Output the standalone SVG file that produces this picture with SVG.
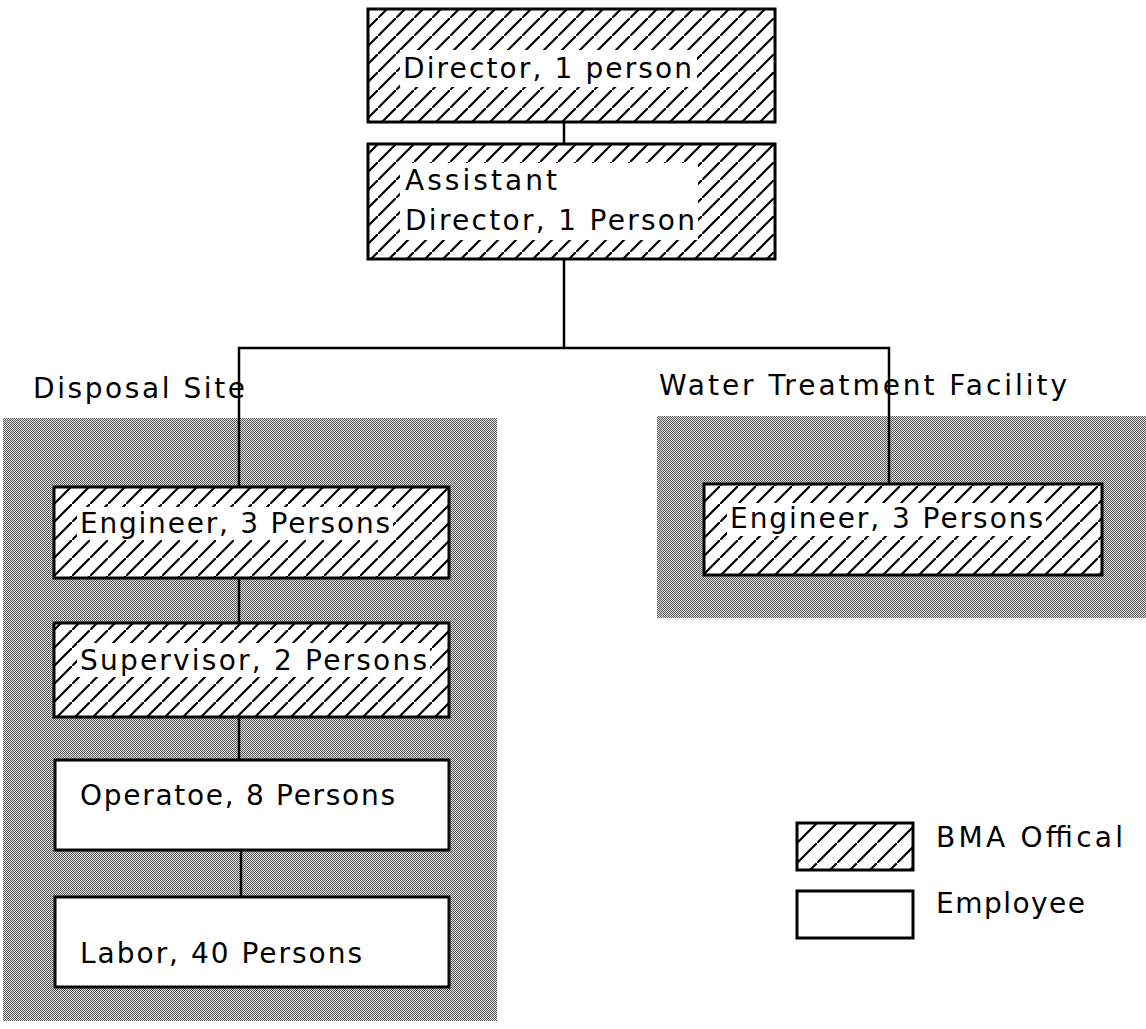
<svg xmlns="http://www.w3.org/2000/svg" width="1146" height="1029" viewBox="0 0 1146 1029">
<style>
text{font-family:"DejaVu Sans","Liberation Sans",sans-serif;font-size:28px;fill:#000}
.box{stroke:#000;stroke-width:3}
.hatch{fill:url(#hatch)}
.plain{fill:#fff}
.ko{fill:#fff;stroke:none}
.conn{stroke:#000;stroke-width:2.5;fill:none}
.gray{fill:url(#dither)}
</style>
<defs>
<pattern id="hatch" patternUnits="userSpaceOnUse" width="18" height="18">
<rect width="18" height="18" fill="#fff"/>
<path d="M-2,20 L20,-2" stroke="#000" stroke-width="2.2"/>
</pattern>
<pattern id="hatch2" patternUnits="userSpaceOnUse" width="20" height="20" x="797" y="823">
<rect width="20" height="20" fill="#fff"/>
<path d="M-2,22 L22,-2" stroke="#000" stroke-width="2.2"/>
</pattern>
<pattern id="dither" patternUnits="userSpaceOnUse" width="2" height="2">
<rect width="2" height="2" fill="#e4e4e4"/>
<rect width="1" height="1" fill="#555"/>
<rect x="1" y="1" width="1" height="1" fill="#555"/>
</pattern>
</defs>
<rect width="1146" height="1029" fill="#fff"/>

<g id="group-disposal">
<rect class="gray" x="3" y="418" width="494" height="603"/>
<text x="33" y="398" textLength="212" lengthAdjust="spacing">Disposal Site</text>
</g>
<g id="group-water">
<rect class="gray" x="657" y="416" width="489" height="202"/>
<text x="659" y="395" textLength="408" lengthAdjust="spacing">Water Treatment Facility</text>
</g>

<g id="connectors">
<line class="conn" x1="564" y1="122" x2="564" y2="144"/>
<polyline class="conn" points="564,259 564,348"/>
<polyline class="conn" points="239,487 239,348 889,348 889,484"/>
<line class="conn" x1="239" y1="578" x2="239" y2="623"/>
<line class="conn" x1="239" y1="717" x2="239" y2="760"/>
<line class="conn" x1="241" y1="850" x2="241" y2="897"/>
</g>

<g id="node-director">
<rect class="box hatch" x="368" y="9" width="407" height="113"/>
<rect class="ko" x="400" y="50" width="297" height="37"/>
<text x="403" y="78" textLength="289" lengthAdjust="spacing">Director, 1 person</text>
</g>
<g id="node-assistant">
<rect class="box hatch" x="368" y="144" width="407" height="115"/>
<rect class="ko" x="400" y="163" width="298" height="77"/>
<text x="405" y="190" textLength="152" lengthAdjust="spacing">Assistant</text>
<text x="405" y="230" textLength="290" lengthAdjust="spacing">Director, 1 Person</text>
</g>
<g id="node-engineer-disposal">
<rect class="box hatch" x="54" y="487" width="395" height="91"/>
<rect class="ko" x="77" y="507" width="316" height="33"/>
<text x="80" y="533" textLength="310" lengthAdjust="spacing">Engineer, 3 Persons</text>
</g>
<g id="node-supervisor">
<rect class="box hatch" x="54" y="623" width="395" height="94"/>
<rect class="ko" x="77" y="643" width="353" height="34"/>
<text x="80" y="670" textLength="347" lengthAdjust="spacing">Supervisor, 2 Persons</text>
</g>
<g id="node-operatoe">
<rect class="box plain" x="55" y="760" width="394" height="90"/>
<text x="80" y="805" textLength="315" lengthAdjust="spacing">Operatoe, 8 Persons</text>
</g>
<g id="node-labor">
<rect class="box plain" x="55" y="897" width="394" height="90"/>
<text x="80" y="963" textLength="282" lengthAdjust="spacing">Labor, 40 Persons</text>
</g>
<g id="node-engineer-water">
<rect class="box hatch" x="704" y="484" width="398" height="91"/>
<rect class="ko" x="727" y="503" width="319" height="33"/>
<text x="730" y="528" textLength="313" lengthAdjust="spacing">Engineer, 3 Persons</text>
</g>

<g id="legend">
<rect class="box" x="797" y="823" width="116" height="47" fill="url(#hatch2)"/>
<text x="936" y="847" textLength="187" lengthAdjust="spacing">BMA Offical</text>
<rect class="box plain" x="797" y="891" width="116" height="47"/>
<text x="936" y="913" textLength="149" lengthAdjust="spacing">Employee</text>
</g>
</svg>
